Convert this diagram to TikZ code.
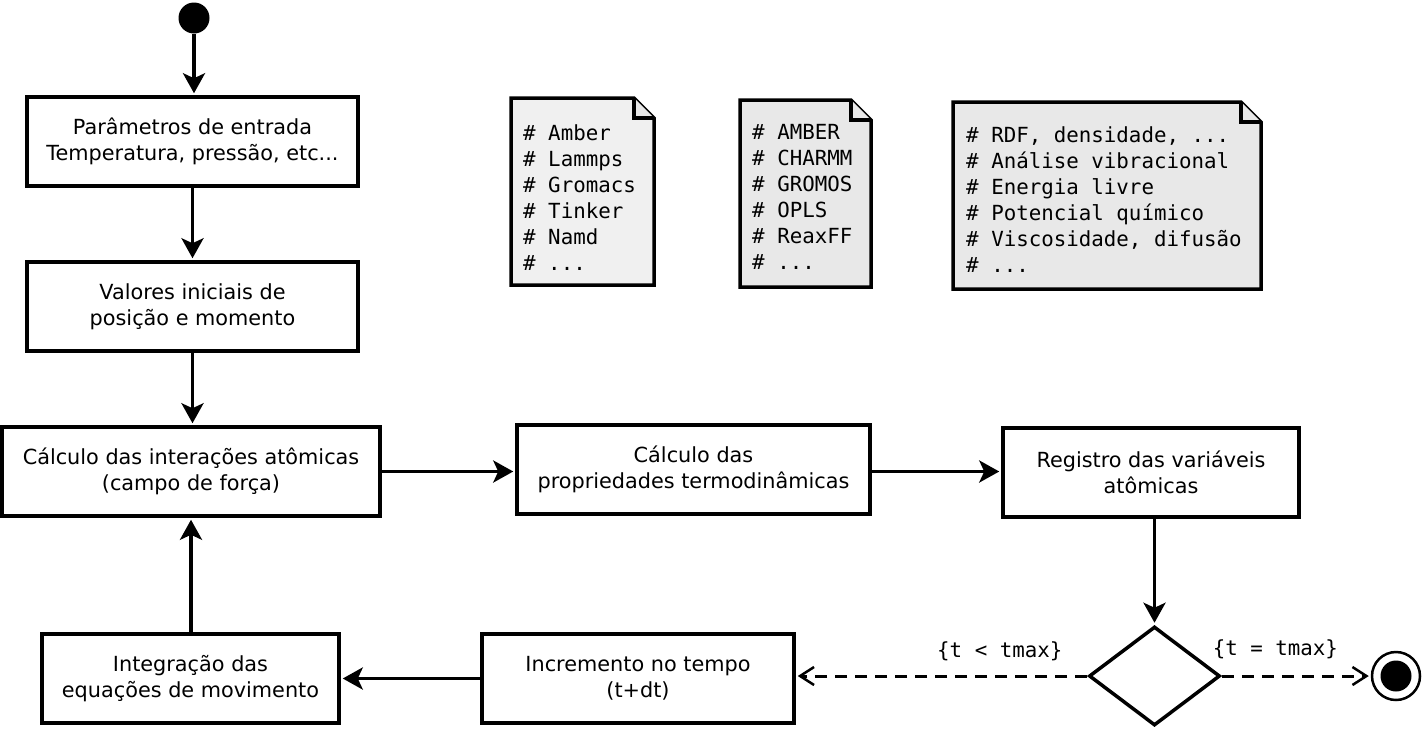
\documentclass[tikz,border=0pt]{standalone}
\usepackage{fontspec}
\setmainfont{DejaVu Sans}
\setmonofont{DejaVu Sans Mono}
\usetikzlibrary{arrows.meta,shapes.geometric,calc,backgrounds}

\tikzset{
  box/.style={draw,line width=3.5pt,inner sep=0pt,align=center,font=\fontsize{20.8}{26}\selectfont},
  notetxt/.style={inner sep=0pt,align=left,font=\ttfamily\fontsize{20.8}{26}\selectfont},
  notebox/.style={draw,line width=3.5pt,fill=gray!18,line join=miter},
  flow/.style={line width=3.5pt,shorten >=2pt,-{Stealth[length=20pt,width=22pt,inset=5pt]}},
  guard/.style={line width=3pt,dash pattern=on 12pt off 8pt,shorten >=2pt,-{Straight Barb[length=14pt,width=18pt,line width=2.5pt]}},
  lbl/.style={font=\ttfamily\fontsize{20.8}{26}\selectfont,inner sep=0pt}
}

\begin{document}
\begin{tikzpicture}[x=1pt,y=-1pt]
\useasboundingbox (0,0) rectangle (1424,729);

% start / end
\node[circle,fill=black,minimum size=31pt,inner sep=0pt] (start) at (194,18) {};
\node[circle,draw,line width=2.5pt,minimum size=48pt,inner sep=0pt] (stop) at (1396,676) {};
\node[circle,fill=black,minimum size=31pt,inner sep=0pt] at (stop) {};

% activity boxes
\node[box,minimum width=331pt,minimum height=89pt] (param) at (192.5,141.5) {Parâmetros de entrada\\Temperatura, pressão, etc...};
\node[box,minimum width=331pt,minimum height=89pt] (init) at (192.5,306.5) {Valores iniciais de\\posição e momento};
\node[box,minimum width=378pt,minimum height=89pt] (force) at (191,471.5) {Cálculo das interações atômicas\\(campo de força)};
\node[box,minimum width=353pt,minimum height=89pt] (prop) at (693.5,469.5) {Cálculo das\\propriedades termodinâmicas};
\node[box,minimum width=296pt,minimum height=89pt] (reg) at (1151,472.5) {Registro das variáveis\\atômicas};
\node[draw,diamond,line width=3.5pt,minimum width=131pt,minimum height=99pt,inner sep=0pt] (dec) at (1154.5,676) {};
\node[box,minimum width=312pt,minimum height=89pt] (incr) at (638,678.5) {Incremento no tempo\\(t+dt)};
\node[box,minimum width=297pt,minimum height=89pt] (integ) at (190.5,678.5) {Integração das\\equações de movimento};

% notes
\node[notetxt,anchor=north west] (prog) at (523,124) {\# Amber\\\# Lammps\\\# Gromacs\\\# Tinker\\\# Namd\\\# ...};
\node[notetxt,anchor=north west] (ff) at (752,124) {\# AMBER\\\# CHARMM\\\# GROMOS\\\# OPLS\\\# ReaxFF\\\# ...};
\node[notetxt,anchor=north west] (anal) at (966,126) {\# RDF, densidade, ...\\\# Análise vibracional\\\# Energia livre\\\# Potencial químico\\\# Viscosidade, difusão\\\# ...};
\begin{scope}[on background layer]
  \draw[notebox,fill=gray!12] (511,98) -- (634,98) -- (654,118) -- (654,285) -- (511,285) -- cycle;
  \draw[notebox] (634,98) -- (634,118) -- (654,118);
  \draw[notebox] (740,100) -- (851,100) -- (871,120) -- (871,287) -- (740,287) -- cycle;
  \draw[notebox] (851,100) -- (851,120) -- (871,120);
  \draw[notebox] (953,102) -- (1241,102) -- (1261,122) -- (1261,289) -- (953,289) -- cycle;
  \draw[notebox] (1241,102) -- (1241,122) -- (1261,122);
\end{scope}

% flow
\draw[flow] (start) -- (start |- param.north);
\draw[flow] (param) -- (init);
\draw[flow] (init.south) -- (init.south |- force.north);
\draw[flow] (force) -- (prop.west |- force);
\draw[flow] (prop.east |- force) -- (reg.west |- force);
\draw[flow] (reg.south -| dec) -- (dec.north);
\draw[guard] (dec.west) -- (incr.east |- dec.west)
  node[lbl,pos=0.30,above=14pt] (lt) {\{t < tmax\}};
\draw[guard] (dec.east) -- (stop.west)
  node[lbl,pos=0.36,above=16pt] (eq) {\{t = tmax\}};
\draw[flow] (incr) -- (integ);
\draw[flow] (integ.north -| force) -- (force.south);
\end{tikzpicture}
\end{document}
